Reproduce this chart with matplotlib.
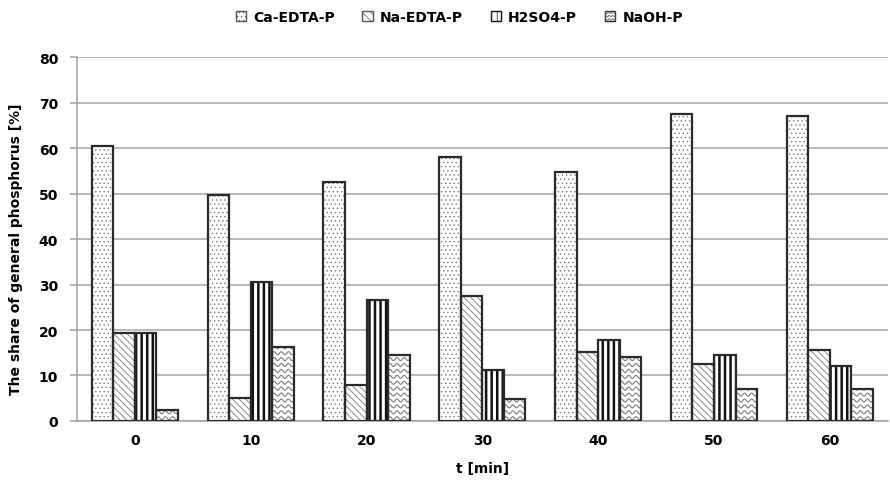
import numpy as np
import matplotlib.pyplot as plt
from matplotlib.patches import Rectangle
from matplotlib.lines import Line2D
from matplotlib.legend_handler import HandlerBase

plt.rcParams['font.family'] = ['DejaVu Sans']

# data
t_min = ['0', '10', '20', '30', '40', '50', '60']
series = ['Ca-EDTA-P', 'Na-EDTA-P', 'H2SO4-P', 'NaOH-P']
ca_edta = [60.4, 49.7, 52.5, 58.0, 54.7, 67.6, 67.0]
na_edta = [19.4, 5.1, 7.8, 27.4, 15.1, 12.5, 15.5]
h2so4 = [19.4, 30.6, 26.7, 11.2, 17.7, 14.4, 12.1]
naoh = [2.4, 16.2, 14.4, 4.9, 14.0, 7.1, 7.1]

edge = '#2a2a2a'
x = np.arange(len(t_min))
w = 0.186

fig = plt.figure(figsize=(8.9, 4.85), dpi=100)
ax = fig.add_axes([0.0865, 0.13, 0.911, 0.75])


def hatched_bars(pos, vals, hatch, hcolor, hlw):
    plt.rcParams['hatch.linewidth'] = hlw
    b = ax.bar(pos, vals, w, color='white', hatch=hatch, edgecolor=hcolor,
               linewidth=0, zorder=2)
    for p in b:
        if hasattr(p, 'set_hatch_linewidth'):
            p.set_hatch_linewidth(hlw)
    ax.bar(pos, vals, w, fill=False, edgecolor=edge, linewidth=1.6, zorder=4)
    return b


hatched_bars(x - 1.5 * w, ca_edta, '....', '#7a7a7a', 0.5)
hatched_bars(x - 0.5 * w, na_edta, '\\\\\\\\\\', '#7a7a7a', 0.6)
hatched_bars(x + 0.5 * w, h2so4, '|||', '#111111', 1.8)
nb = hatched_bars(x + 1.5 * w, naoh, '', 'white', 0.5)

# wavy pattern for NaOH bars
for r in nb:
    x0, y0, bw, bh = r.get_x(), r.get_y(), r.get_width(), r.get_height()
    xs = np.linspace(x0 - 0.01, x0 + bw + 0.01, 120)
    for yy in np.arange(y0 + 0.6, y0 + bh + 1.5, 1.3):
        ln, = ax.plot(xs, yy + 0.33 * np.sin(2 * np.pi * (xs - x0) / 0.062),
                      color='#7a7a7a', lw=0.8, zorder=3)
        ln.set_clip_path(r)

ax.set_xlim(-0.5, 6.5)
ax.set_ylim(0, 80)
ax.set_yticks(range(0, 81, 10))
ax.set_xticks(x)
ax.set_xticklabels(t_min)
ax.yaxis.grid(True, color='#a6a6a6', lw=1.1)
ax.set_axisbelow(True)
for s in ['top', 'right']:
    ax.spines[s].set_visible(False)
ax.spines['left'].set_color('#a0a0a0')
ax.spines['bottom'].set_color('#a0a0a0')
ax.spines['left'].set_linewidth(1.1)
ax.spines['bottom'].set_linewidth(1.1)
ax.tick_params(axis='y', length=5, color='#a0a0a0', width=1.1, pad=8.5,
               labelsize=10)
ax.tick_params(axis='x', length=0, pad=9, labelsize=10)
for lab in ax.get_xticklabels() + ax.get_yticklabels():
    lab.set_fontweight('bold')
ax.set_xlabel('t [min]', fontsize=10, fontweight='bold', labelpad=10)
ax.set_ylabel('The share of general phosphorus [%]', fontsize=10,
              fontweight='bold')
ax.yaxis.set_label_coords(-0.066, 0.475)


class WaveHandler(HandlerBase):
    def create_artists(self, legend, orig_handle, xdescent, ydescent,
                       width, height, fontsize, trans):
        rect = Rectangle((-xdescent, -ydescent), width, height,
                         facecolor='white', edgecolor=edge, lw=1,
                         transform=trans)
        arts = [rect]
        xs = np.linspace(-xdescent, -xdescent + width, 30)
        for i in range(3):
            yy = -ydescent + height * (i + 0.5) / 3
            arts.append(Line2D(xs, yy + height * 0.08 * np.sin(xs / width * 6 * np.pi),
                               color='#777777', lw=0.7, transform=trans))
        return arts


handles = [Rectangle((0, 0), 1, 1, facecolor='white', edgecolor='#555555', hatch='....', lw=1),
           Rectangle((0, 0), 1, 1, facecolor='white', edgecolor='#555555', hatch='\\\\\\\\', lw=1),
           Rectangle((0, 0), 1, 1, facecolor='white', edgecolor='#111111', hatch='|||', lw=1),
           Rectangle((0, 0), 1, 1, facecolor='white', edgecolor='#555555', lw=1)]
leg = fig.legend(handles, series, loc='center', bbox_to_anchor=(0.516, 0.963),
                 ncol=4, frameon=False, handlelength=0.75, handleheight=0.75,
                 handletextpad=0.5, columnspacing=2.0,
                 prop={'weight': 'bold', 'size': 10},
                 handler_map={handles[3]: WaveHandler()})

fig.savefig('out.png', dpi=100)
